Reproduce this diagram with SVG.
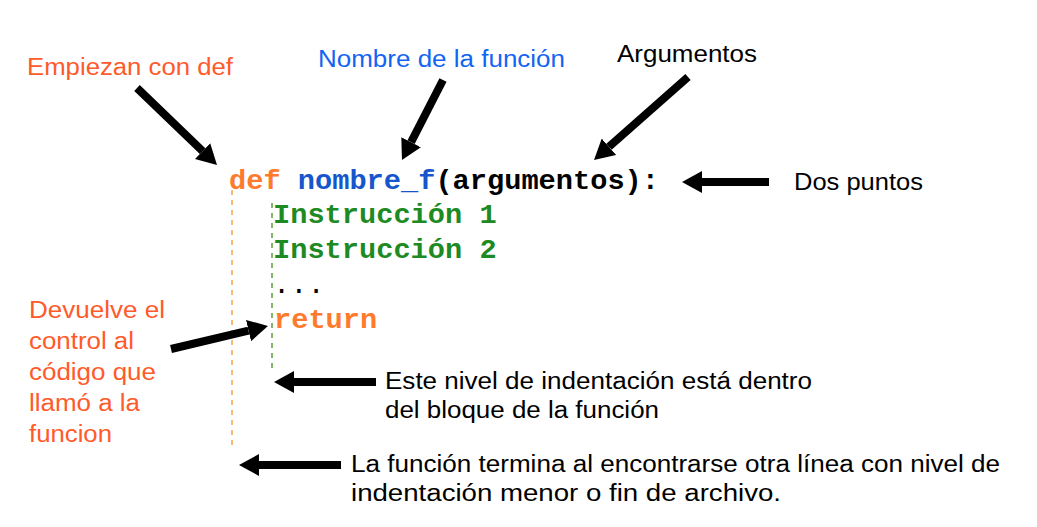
<svg xmlns="http://www.w3.org/2000/svg" width="1037" height="527" viewBox="0 0 1037 527">
<defs>
<style>
.lbl{font-family:"Liberation Sans",Arial,sans-serif;font-size:23px}
.code{font-family:"Liberation Mono","Courier New",monospace;font-size:27px;font-weight:bold}
.or{fill:#FF5A2A}
.bl{fill:#1464F4}
.bk{fill:#000}
.cor{fill:#FF7A2C}
.cbl{fill:#1656CC}
.cgr{fill:#1E8A24}
.arr{stroke:#000;stroke-width:8;fill:none}
</style>
<marker id="ah" viewBox="0 0 20 22" refX="0" refY="11" markerWidth="20" markerHeight="22" orient="auto" markerUnits="userSpaceOnUse">
<path d="M0,0 L20,11 L0,22 z" fill="#000"/>
</marker>
</defs>
<rect width="1037" height="527" fill="#fff"/>

<g id="guides">
<line x1="232" y1="190" x2="232" y2="448" stroke="#F5A54A" stroke-width="1.5" stroke-dasharray="5,5"/>
<line x1="272" y1="203" x2="272" y2="369" stroke="#5A9E3A" stroke-width="1.5" stroke-dasharray="5,5"/>
</g>

<g id="code">
<text class="code cor" x="229" y="189" textLength="51.6" lengthAdjust="spacingAndGlyphs">def</text>
<text class="code cbl" x="297.8" y="189" textLength="137.6" lengthAdjust="spacingAndGlyphs">nombre_f</text>
<text class="code bk" x="435.4" y="189" textLength="223.6" lengthAdjust="spacingAndGlyphs">(argumentos):</text>
<text class="code cgr" x="273" y="223" textLength="223.6" lengthAdjust="spacingAndGlyphs">Instrucción 1</text>
<text class="code cgr" x="273" y="258" textLength="223.6" lengthAdjust="spacingAndGlyphs">Instrucción 2</text>
<text class="code bk" x="273" y="293" textLength="51.6" lengthAdjust="spacingAndGlyphs" style="font-weight:normal">...</text>
<text class="code cor" x="274" y="328" textLength="103.2" lengthAdjust="spacingAndGlyphs">return</text>
</g>

<g id="connectors">
<line class="arr" x1="137" y1="88" x2="202.6" y2="151.1" marker-end="url(#ah)"/>
<line class="arr" x1="443" y1="80" x2="411.1" y2="142.2" marker-end="url(#ah)"/>
<line class="arr" x1="688" y1="77" x2="609" y2="146.8" marker-end="url(#ah)"/>
<line class="arr" x1="769" y1="182" x2="702" y2="182" marker-end="url(#ah)"/>
<line class="arr" x1="171" y1="349" x2="248.5" y2="330.6" marker-end="url(#ah)"/>
<line class="arr" x1="376" y1="382" x2="294" y2="382" marker-end="url(#ah)"/>
<line class="arr" x1="341" y1="465" x2="259" y2="465" marker-end="url(#ah)"/>
</g>

<g id="label-empiezan">
<text class="lbl or" x="27" y="75" textLength="206" lengthAdjust="spacingAndGlyphs">Empiezan con def</text>
</g>
<g id="label-nombre">
<text class="lbl bl" x="318" y="67" textLength="247" lengthAdjust="spacingAndGlyphs">Nombre de la función</text>
</g>
<g id="label-argumentos">
<text class="lbl bk" x="617" y="62" textLength="140" lengthAdjust="spacingAndGlyphs">Argumentos</text>
</g>
<g id="label-dospuntos">
<text class="lbl bk" x="794" y="190" textLength="129" lengthAdjust="spacingAndGlyphs">Dos puntos</text>
</g>
<g id="label-devuelve">
<text class="lbl or" x="29" y="318" textLength="136" lengthAdjust="spacingAndGlyphs">Devuelve el</text>
<text class="lbl or" x="29" y="349" textLength="105" lengthAdjust="spacingAndGlyphs">control al</text>
<text class="lbl or" x="29" y="380" textLength="127" lengthAdjust="spacingAndGlyphs">código que</text>
<text class="lbl or" x="29" y="411" textLength="111" lengthAdjust="spacingAndGlyphs">llamó a la</text>
<text class="lbl or" x="29" y="442" textLength="83" lengthAdjust="spacingAndGlyphs">funcion</text>
</g>
<g id="label-este">
<text class="lbl bk" x="385" y="389" textLength="427" lengthAdjust="spacingAndGlyphs">Este nivel de indentación está dentro</text>
<text class="lbl bk" x="385" y="418" textLength="274" lengthAdjust="spacingAndGlyphs">del bloque de la función</text>
</g>
<g id="label-termina">
<text class="lbl bk" x="351" y="472" textLength="649" lengthAdjust="spacingAndGlyphs">La función termina al encontrarse otra línea con nivel de</text>
<text class="lbl bk" x="351" y="501" textLength="430" lengthAdjust="spacingAndGlyphs">indentación menor o fin de archivo.</text>
</g>
</svg>
